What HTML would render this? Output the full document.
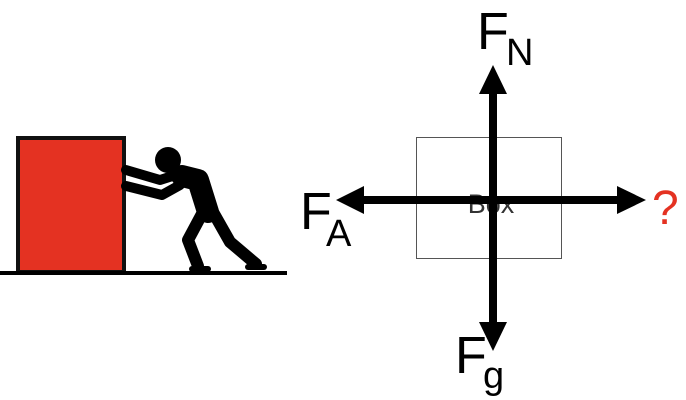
<!DOCTYPE html>
<html><head><style>
html,body{margin:0;padding:0;background:#fff;}
svg{display:block;}
text{font-family:"Liberation Sans",sans-serif;}
</style></head><body>
<svg width="686" height="400" viewBox="0 0 686 400" xmlns="http://www.w3.org/2000/svg">
<rect x="18" y="138" width="106" height="134" fill="#e43222" stroke="#111" stroke-width="4"/>
<line x1="0" y1="273" x2="287" y2="273" stroke="#000" stroke-width="4"/>
<g stroke="#000" stroke-linecap="round" stroke-linejoin="round" fill="none">
<circle cx="168" cy="160" r="13" fill="#000" stroke="none"/>
<polyline points="126,170 160,180 185,172" stroke-width="10"/>
<polyline points="126,186 162,195 180,185" stroke-width="10"/>
<polyline points="182,176 198,180 208,212" stroke-width="22"/>
<polyline points="203,212 188,240 198,266" stroke-width="12"/>
<polyline points="213,212 230,242 256,264" stroke-width="12"/>
<line x1="192" y1="269" x2="208" y2="269" stroke-width="6"/>
<line x1="248" y1="267" x2="264" y2="267" stroke-width="6"/>
</g>
<rect x="416.5" y="137.5" width="145" height="121" fill="none" stroke="#555" stroke-width="1"/>
<text x="491" y="213" font-size="27" fill="#333" text-anchor="middle">Box</text>
<rect x="489" y="90" width="8" height="236" fill="#000"/>
<polygon points="493,65 479,94 507,94" fill="#000"/>
<polygon points="493,351 479,322 507,322" fill="#000"/>
<rect x="360" y="196" width="260" height="8" fill="#000"/>
<polygon points="336,200 364,186 364,214" fill="#000"/>
<polygon points="646,200 617,186 617,214" fill="#000"/>
<text x="477" y="49" font-size="52">F</text>
<text x="506" y="65" font-size="38">N</text>
<text x="300" y="229" font-size="52">F</text>
<text x="326" y="246" font-size="38">A</text>
<text x="455" y="373" font-size="52">F</text>
<text x="483" y="388" font-size="38">g</text>
<text x="652" y="224" font-size="48" fill="#e43222">?</text>
</svg>
</body></html>
